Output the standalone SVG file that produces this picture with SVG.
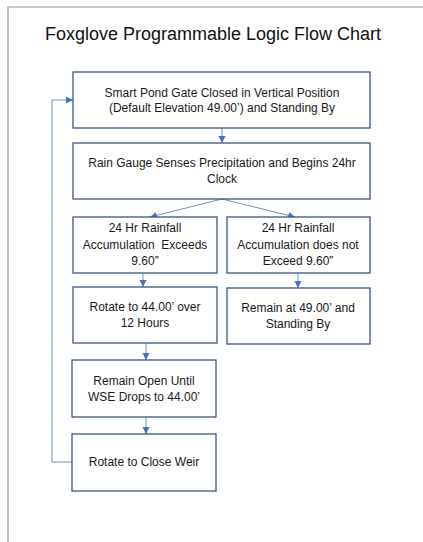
<svg xmlns="http://www.w3.org/2000/svg" width="423" height="542" viewBox="0 0 423 542">
  <defs>
    <marker id="arrow" markerWidth="8" markerHeight="8" refX="7" refY="4" orient="auto" markerUnits="userSpaceOnUse">
      <path d="M0,0.5 L7,4 L0,7.5 Z" fill="#4472C4"/>
    </marker>
    <style>
      .box { fill: #ffffff; stroke: #3B5486; stroke-width: 1.3; }
      .lbl { font-family: "Liberation Sans", Arial, sans-serif; font-size: 12px; fill: #1a1a1a; text-anchor: middle; }
      .title { font-family: "Liberation Sans", Arial, sans-serif; font-size: 18px; fill: #111111; text-anchor: middle; }
      .conn { fill: none; stroke: #6F8FCB; stroke-width: 1; marker-end: url(#arrow); }
      .frame { fill: none; stroke: #8497B0; stroke-width: 1.2; }
    </style>
  </defs>

  <rect width="423" height="542" fill="#ffffff"/>
  <!-- page frame -->
  <path class="frame" d="M8,542 L8,7 L423,7"/>

  <text class="title" x="213" y="40">Foxglove Programmable Logic Flow Chart</text>

  <g id="connectors">
    <line class="conn" x1="222" y1="128" x2="222" y2="143"/>
    <line class="conn" x1="222" y1="199" x2="150" y2="217"/>
    <line class="conn" x1="222" y1="199" x2="295" y2="217"/>
    <line class="conn" x1="143" y1="273" x2="143" y2="287"/>
    <line class="conn" x1="298" y1="273" x2="298" y2="288"/>
    <line class="conn" x1="146" y1="343" x2="146" y2="360"/>
    <line class="conn" x1="146" y1="417" x2="146" y2="434"/>
    <path class="conn" d="M72,462 L52,462 L52,100 L73,100"/>
  </g>

  <g id="start">
    <rect class="box" x="73" y="72" width="297" height="56"/>
    <text class="lbl" x="222" y="97">Smart Pond Gate Closed in Vertical Position</text>
    <text class="lbl" x="222" y="112">(Default Elevation 49.00’) and Standing By</text>
  </g>

  <g id="rain-gauge">
    <rect class="box" x="73" y="143" width="297" height="56"/>
    <text class="lbl" x="222" y="167">Rain Gauge Senses Precipitation and Begins 24hr</text>
    <text class="lbl" x="222" y="183">Clock</text>
  </g>

  <g id="exceeds">
    <rect class="box" x="73" y="217" width="144" height="56"/>
    <text class="lbl" x="145" y="232">24 Hr Rainfall</text>
    <text class="lbl" x="145" y="249">Accumulation&#160; Exceeds</text>
    <text class="lbl" x="145" y="265">9.60”</text>
  </g>

  <g id="not-exceeds">
    <rect class="box" x="227" y="217" width="143" height="56"/>
    <text class="lbl" x="298" y="232">24 Hr Rainfall</text>
    <text class="lbl" x="298" y="249">Accumulation does not</text>
    <text class="lbl" x="298" y="265">Exceed 9.60”</text>
  </g>

  <g id="rotate-open">
    <rect class="box" x="73" y="287" width="144" height="56"/>
    <text class="lbl" x="145" y="311">Rotate to 44.00’ over</text>
    <text class="lbl" x="145" y="327">12 Hours</text>
  </g>

  <g id="remain-standby">
    <rect class="box" x="227" y="288" width="143" height="56"/>
    <text class="lbl" x="298" y="312">Remain at 49.00’ and</text>
    <text class="lbl" x="298" y="328">Standing By</text>
  </g>

  <g id="remain-open">
    <rect class="box" x="72" y="360" width="144" height="57"/>
    <text class="lbl" x="144" y="385">Remain Open Until</text>
    <text class="lbl" x="144" y="401">WSE Drops to 44.00’</text>
  </g>

  <g id="close-weir">
    <rect class="box" x="72" y="434" width="144" height="57"/>
    <text class="lbl" x="144" y="466">Rotate to Close Weir</text>
  </g>
</svg>
